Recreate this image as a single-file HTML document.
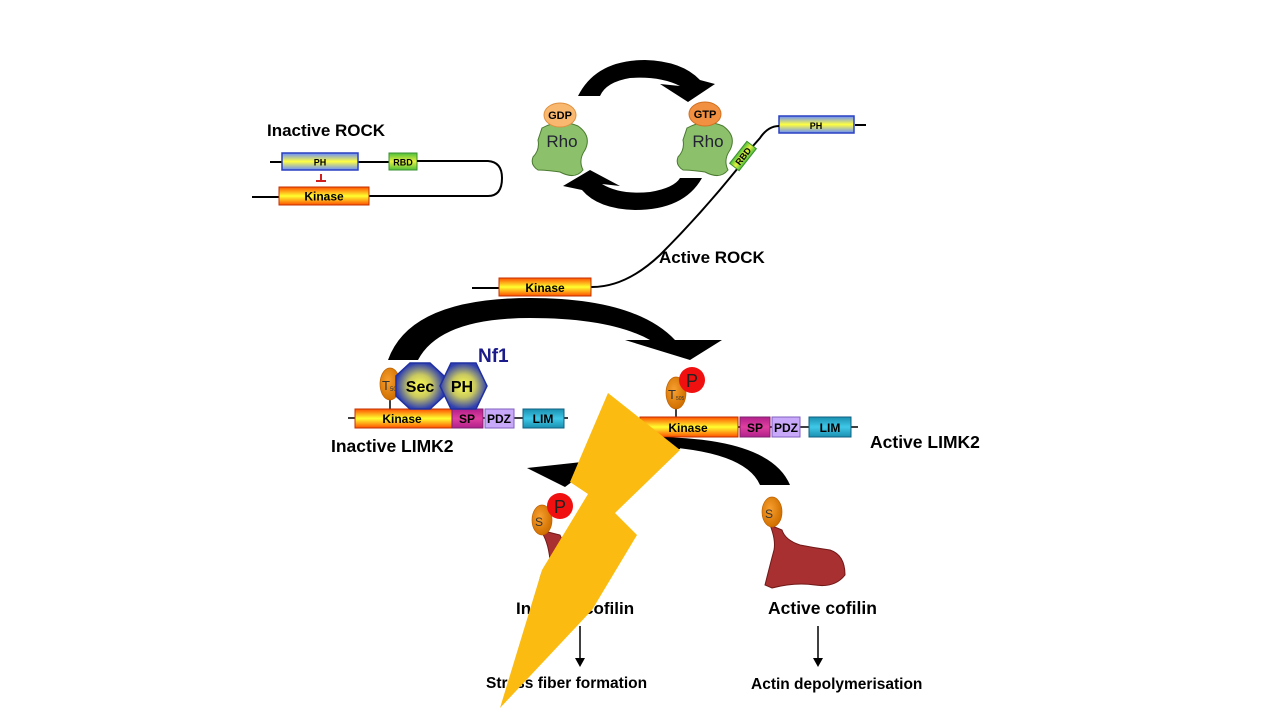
<!DOCTYPE html>
<html><head><meta charset="utf-8"><style>
html,body{margin:0;padding:0;background:#fff;}
svg{display:block;font-family:"Liberation Sans",sans-serif;}
</style></head><body>
<svg width="1280" height="720" viewBox="0 0 1280 720">
<defs>
<linearGradient id="yb" x1="0" y1="0" x2="0" y2="1"><stop offset="0" stop-color="#6a8cff"/><stop offset="0.5" stop-color="#ffff40"/><stop offset="1" stop-color="#6a8cff"/></linearGradient>
<linearGradient id="yr" x1="0" y1="0" x2="0" y2="1"><stop offset="0" stop-color="#ff5000"/><stop offset="0.5" stop-color="#ffff30"/><stop offset="1" stop-color="#ff5000"/></linearGradient>
<linearGradient id="gr" x1="0" y1="0" x2="0" y2="1"><stop offset="0" stop-color="#4bbf3a"/><stop offset="0.5" stop-color="#e8f040"/><stop offset="1" stop-color="#4bbf3a"/></linearGradient>
<linearGradient id="sp" x1="0" y1="0" x2="0" y2="1"><stop offset="0" stop-color="#b0208a"/><stop offset="0.5" stop-color="#e040a0"/><stop offset="1" stop-color="#b0208a"/></linearGradient>
<linearGradient id="lim" x1="0" y1="0" x2="0" y2="1"><stop offset="0" stop-color="#1a8fb0"/><stop offset="0.5" stop-color="#40c8e8"/><stop offset="1" stop-color="#1a8fb0"/></linearGradient>
<radialGradient id="nf" cx="0.5" cy="0.5" r="0.5"><stop offset="0" stop-color="#ffff50"/><stop offset="0.5" stop-color="#c8c860"/><stop offset="1" stop-color="#3040b0"/></radialGradient>
<radialGradient id="org" cx="0.4" cy="0.4" r="0.6"><stop offset="0" stop-color="#f8a030"/><stop offset="1" stop-color="#d07000"/></radialGradient>
</defs>

<!-- Inactive ROCK -->
<text x="267" y="136" font-size="17" font-weight="bold">Inactive ROCK</text>
<line x1="270" y1="162" x2="390" y2="162" stroke="#000" stroke-width="2"/>
<rect x="282" y="153" width="76" height="17" fill="url(#yb)" stroke="#2a40c0" stroke-width="1.5"/>
<text x="320" y="165.5" font-size="9" font-weight="bold" text-anchor="middle">PH</text>
<rect x="389" y="153" width="28" height="17" fill="url(#gr)" stroke="#3a9030" stroke-width="1"/>
<text x="403" y="165.5" font-size="9" font-weight="bold" text-anchor="middle">RBD</text>
<path d="M417,161 L488,161 Q502,162 502,178 Q502,196 488,196 L368,196" fill="none" stroke="#000" stroke-width="2"/>
<line x1="252" y1="197" x2="280" y2="197" stroke="#000" stroke-width="2"/>
<rect x="279" y="187" width="90" height="18" fill="url(#yr)" stroke="#c03000" stroke-width="1"/>
<text x="324" y="200.5" font-size="12" font-weight="bold" text-anchor="middle">Kinase</text>
<line x1="321" y1="174" x2="321" y2="181" stroke="#d02020" stroke-width="2"/>
<line x1="316" y1="181" x2="326" y2="181" stroke="#d02020" stroke-width="2"/>

<!-- Rho cycle arrows -->
<path d="M578,96 Q596,60 645,60 Q682,61 700,80 L715,84 L688,102 L660,84 L680,86 Q660,76 630,78 Q606,82 600,96 Z" fill="#000"/>
<path d="M702,178 Q684,210 635,210 Q598,209 582,190 L563,186 L590,170 L620,186 L602,184 Q620,195 650,192 Q674,188 680,178 Z" fill="#000"/>

<!-- Rho GDP -->
<path d="M542,128 Q560,118 578,126 Q592,136 585,150 Q578,160 583,170 Q575,180 560,172 Q545,170 538,170 Q530,165 533,157 Q540,150 538,140 Z" fill="#8cc06a" stroke="#4a7a30" stroke-width="1"/>
<text x="562" y="147" font-size="17" text-anchor="middle" fill="#223">Rho</text>
<ellipse cx="560" cy="115" rx="16" ry="12" fill="#f8b870" stroke="#e09040"/>
<text x="560" y="119" font-size="11" font-weight="bold" text-anchor="middle">GDP</text>
<!-- Rho GTP -->
<path d="M687,128 Q705,118 723,126 Q737,136 730,150 Q723,160 728,170 Q720,180 705,172 Q690,170 683,170 Q675,165 678,157 Q685,150 683,140 Z" fill="#8cc06a" stroke="#4a7a30" stroke-width="1"/>
<text x="708" y="147" font-size="17" text-anchor="middle" fill="#223">Rho</text>
<ellipse cx="705" cy="114" rx="16" ry="12" fill="#f09040" stroke="#d07020"/>
<text x="705" y="118" font-size="11" font-weight="bold" text-anchor="middle">GTP</text>

<!-- Active ROCK -->
<line x1="855" y1="125" x2="866" y2="125" stroke="#000" stroke-width="2"/>
<rect x="779" y="116" width="75" height="17" fill="url(#yb)" stroke="#2a40c0" stroke-width="1.5"/>
<text x="816" y="129" font-size="9" font-weight="bold" text-anchor="middle">PH</text>
<path d="M779,126 Q768,126 760,138 L745,155 M738,168 Q700,215 660,255 Q625,288 590,287" fill="none" stroke="#000" stroke-width="2"/>
<g transform="translate(743,156) rotate(-52)"><rect x="-14" y="-6" width="28" height="12" fill="url(#gr)" stroke="#3a9030"/><text x="0" y="3.5" font-size="9" font-weight="bold" text-anchor="middle">RBD</text></g>
<text x="659" y="263" font-size="17" font-weight="bold">Active ROCK</text>
<line x1="472" y1="288" x2="500" y2="288" stroke="#000" stroke-width="2"/>
<rect x="499" y="278" width="92" height="18" fill="url(#yr)" stroke="#c03000"/>
<text x="545" y="292" font-size="12" font-weight="bold" text-anchor="middle">Kinase</text>

<!-- Big arrow ROCK->LIMK -->
<path d="M388,360 Q410,298 530,298 Q635,298 675,340 L722,340 L690,360 L625,340 L650,340 Q610,318 530,318 Q440,318 418,360 Z" fill="#000"/>

<!-- Inactive LIMK2 -->
<line x1="348" y1="418" x2="568" y2="418" stroke="#000" stroke-width="1.5"/>
<line x1="390" y1="398" x2="390" y2="409" stroke="#000" stroke-width="1.5"/>
<ellipse cx="390" cy="384" rx="10" ry="16" fill="url(#org)" stroke="#c06000" stroke-width="0.7"/>
<text x="382" y="390" font-size="13" fill="#333">T</text><text x="390" y="391" font-size="6" fill="#333">505</text>
<rect x="355" y="409" width="97" height="19" fill="url(#yr)" stroke="#c03000"/>
<text x="402" y="423" font-size="12" font-weight="bold" text-anchor="middle">Kinase</text>
<rect x="452" y="409" width="31" height="19" fill="url(#sp)" stroke="#802070"/>
<text x="467" y="423" font-size="12" font-weight="bold" text-anchor="middle">SP</text>
<rect x="485" y="409" width="29" height="19" fill="#c8a8f8" stroke="#8060c0"/>
<text x="499" y="423" font-size="12" font-weight="bold" text-anchor="middle">PDZ</text>
<rect x="523" y="409" width="41" height="19" fill="url(#lim)" stroke="#106080"/>
<text x="543" y="423" font-size="12" font-weight="bold" text-anchor="middle">LIM</text>
<polygon points="410,363 430,363 444,376 444,396 430,409 410,409 396,396 396,376" fill="url(#nf)" stroke="#2030a0" stroke-width="1.5"/>
<text x="420" y="392" font-size="16" font-weight="bold" text-anchor="middle">Sec</text>
<polygon points="451,363 476,363 487,386 476,409 451,409 440,386" fill="url(#nf)" stroke="#2030a0" stroke-width="1.5"/>
<text x="462" y="392" font-size="16" font-weight="bold" text-anchor="middle">PH</text>
<text x="478" y="362" font-size="19" font-weight="bold" fill="#1a1a8a">Nf1</text>
<text x="331" y="452" font-size="17.5" font-weight="bold">Inactive LIMK2</text>

<!-- Active LIMK2 -->
<line x1="630" y1="427" x2="858" y2="427" stroke="#000" stroke-width="1.5"/>
<line x1="676" y1="408" x2="676" y2="418" stroke="#000" stroke-width="1.5"/>
<ellipse cx="676" cy="393" rx="10" ry="16" fill="url(#org)" stroke="#c06000" stroke-width="0.7"/>
<text x="668" y="399" font-size="13" fill="#333">T</text><text x="676" y="400" font-size="5" fill="#333">505</text>
<circle cx="692" cy="380" r="13" fill="#f01010"/>
<text x="692" y="387" font-size="18" text-anchor="middle" fill="#222">P</text>
<rect x="640" y="417" width="98" height="20" fill="url(#yr)" stroke="#c03000"/>
<text x="688" y="432" font-size="12" font-weight="bold" text-anchor="middle">Kinase</text>
<rect x="740" y="417" width="30" height="20" fill="url(#sp)" stroke="#802070"/>
<text x="755" y="432" font-size="12" font-weight="bold" text-anchor="middle">SP</text>
<rect x="772" y="417" width="28" height="20" fill="#c8a8f8" stroke="#8060c0"/>
<text x="786" y="432" font-size="12" font-weight="bold" text-anchor="middle">PDZ</text>
<rect x="809" y="417" width="42" height="20" fill="url(#lim)" stroke="#106080"/>
<text x="830" y="432" font-size="12" font-weight="bold" text-anchor="middle">LIM</text>
<text x="870" y="448" font-size="17.5" font-weight="bold">Active LIMK2</text>

<!-- arrows to cofilin -->
<path d="M650,437 Q770,437 790,485 L760,485 Q745,450 650,446 Z" fill="#000"/>
<path d="M680,440 Q610,440 582,462 L527,468 L565,487 L588,470 Q615,450 680,449 Z" fill="#000"/>

<!-- Inactive cofilin -->
<path d="M540,530 Q548,540 550,560 Q540,570 538,590 L545,592 Q570,588 590,593 Q610,588 612,570 Q600,560 580,555 Q565,548 560,535 Z" fill="#a83030" stroke="#701818"/>
<ellipse cx="542" cy="520" rx="10" ry="15" fill="url(#org)" stroke="#c06000" stroke-width="0.7"/>
<text x="535" y="526" font-size="12" fill="#333">S</text>
<circle cx="560" cy="506" r="13" fill="#f01010"/>
<text x="560" y="513" font-size="18" text-anchor="middle" fill="#222">P</text>
<text x="516" y="614" font-size="17" font-weight="bold">Inactive cofilin</text>
<line x1="580" y1="626" x2="580" y2="664" stroke="#000" stroke-width="1.5"/>
<polygon points="575,658 585,658 580,667" fill="#000"/>
<text x="486" y="688" font-size="15.5" font-weight="bold">Stress fiber formation</text>

<!-- Active cofilin -->
<path d="M770,525 Q776,540 774,550 Q770,565 765,585 L772,588 Q795,582 815,585 Q835,588 845,575 Q845,555 830,550 Q815,548 800,545 Q785,540 782,530 Z" fill="#a83030" stroke="#701818"/>
<ellipse cx="772" cy="512" rx="10" ry="15" fill="url(#org)" stroke="#c06000" stroke-width="0.7"/>
<text x="765" y="518" font-size="12" fill="#333">S</text>
<text x="768" y="614" font-size="17.5" font-weight="bold">Active cofilin</text>
<line x1="818" y1="626" x2="818" y2="664" stroke="#000" stroke-width="1.5"/>
<polygon points="813,658 823,658 818,667" fill="#000"/>
<text x="751" y="689" font-size="15.5" font-weight="bold">Actin depolymerisation</text>

<!-- lightning bolt -->
<polygon points="608,393 680,450 615,513 637,535 592,610 500,708 542,570 588,494 570,482" fill="#fbbb10"/>
</svg>
</body></html>
